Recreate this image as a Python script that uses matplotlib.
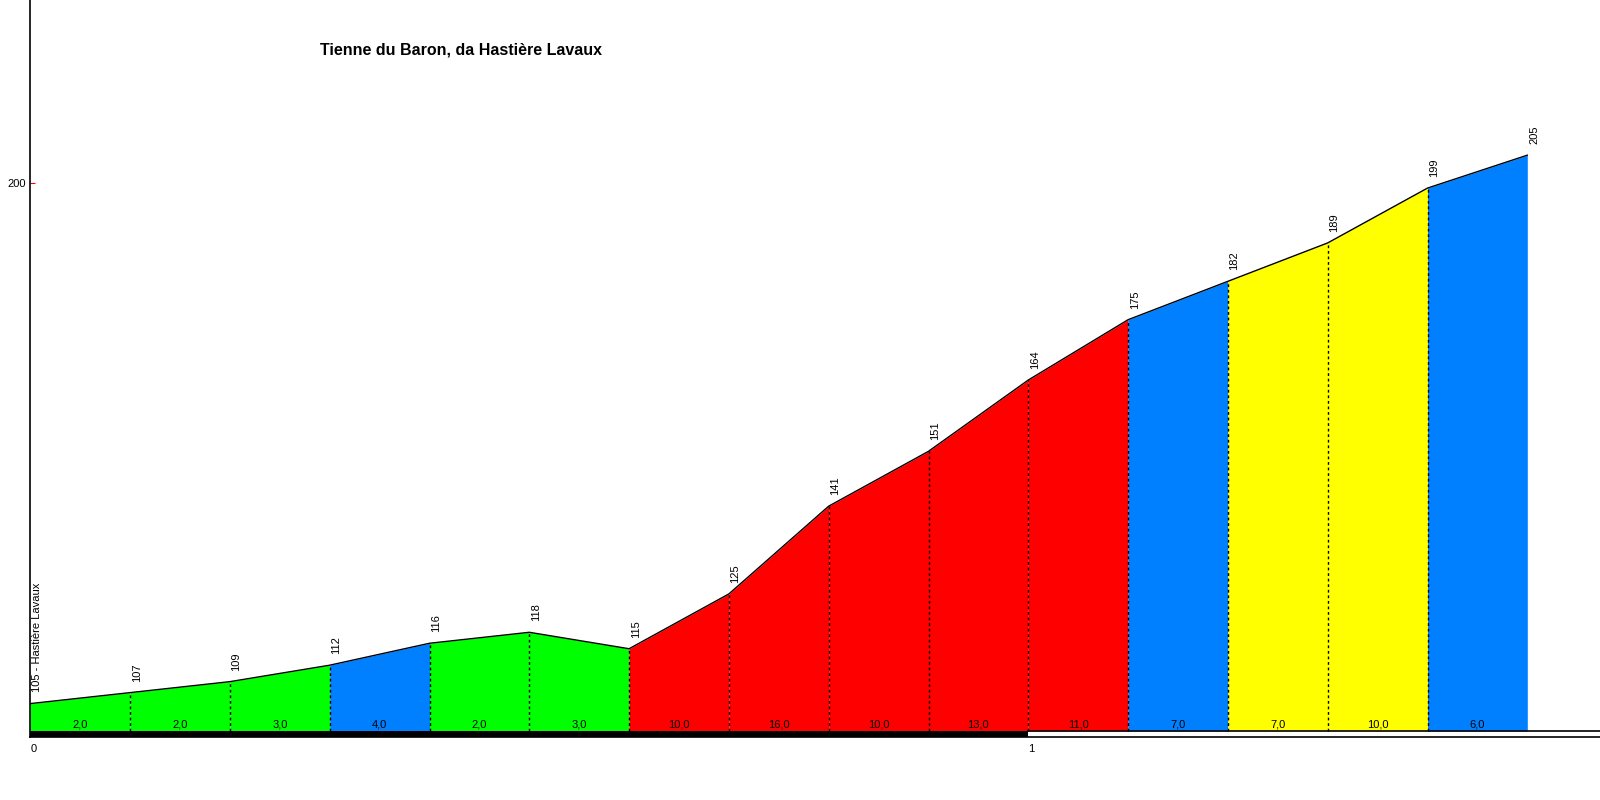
import matplotlib
matplotlib.use("Agg")
import matplotlib.pyplot as plt
import numpy as np

plt.rcParams['font.family'] = ['Liberation Sans', 'DejaVu Sans']

# Data
distance_km = [0.0, 0.1, 0.2, 0.3, 0.4, 0.5, 0.6, 0.7, 0.8, 0.9, 1.0, 1.1, 1.2, 1.3, 1.4, 1.5]
elevation_m = [105, 107, 109, 112, 116, 118, 115, 125, 141, 151, 164, 175, 182, 189, 199, 205]
gradient_labels = ["2,0", "2,0", "3,0", "4,0", "2,0", "3,0", "10,0", "16,0", "10,0",
                   "13,0", "11,0", "7,0", "7,0", "10,0", "6,0"]
segment_colors = ["#00FF00", "#00FF00", "#00FF00", "#0080FF", "#00FF00", "#00FF00",
                  "#FF0000", "#FF0000", "#FF0000", "#FF0000", "#FF0000",
                  "#0080FF", "#FFFF00", "#FFFF00", "#0080FF"]
start_label = "105 - Hastière Lavaux"
title = "Tienne du Baron, da Hastière Lavaux"
x_ticks = [0, 1]
y_ticks = [200]

W, H = 1600, 800
fig = plt.figure(figsize=(16, 8), dpi=100)
left_px, base_px, bottom_px = 30.3, 731, 737
px_per_m = 5.484
px_per_km = 998
ax = fig.add_axes([left_px / W, (H - bottom_px) / H, 1 - left_px / W, bottom_px / H])
ybot = 100 - (bottom_px - base_px) / px_per_m
ytop = 100 + base_px / px_per_m
ax.set_xlim(0, (W - left_px) / px_per_km)
ax.set_ylim(ybot, ytop)

x = np.array(distance_km)
y = np.array(elevation_m)

for i in range(len(x) - 1):
    ax.fill_between([x[i], x[i + 1]], [100, 100], [y[i], y[i + 1]],
                    color=segment_colors[i], linewidth=0)
for i in range(1, len(x) - 1):
    ax.vlines(x[i], 100, y[i], colors="black", linewidth=1, linestyles=(0, (2, 2)))
ax.plot(x, y, color="black", linewidth=1)

# distance bar
ax.fill_between([0, 1], [ybot, ybot], [100, 100], color="black", linewidth=0)
xmax = ax.get_xlim()[1]
ax.plot([1, xmax], [100, 100], color="black", linewidth=1.2, clip_on=False)
ax.plot([0, xmax], [ybot, ybot], color="black", linewidth=1.2, clip_on=False)

# elevation labels
for i in range(1, len(x)):
    ax.annotate(str(elevation_m[i]), (x[i], y[i]), xytext=(1.2, 8), textcoords="offset points",
                rotation=90, ha="left", va="bottom", fontsize=8)
ax.annotate(start_label, (x[0], y[0]), xytext=(1.2, 8), textcoords="offset points",
            rotation=90, ha="left", va="bottom", fontsize=8)

# gradient labels
for i in range(len(x) - 1):
    ax.annotate(gradient_labels[i], ((x[i] + x[i + 1]) / 2, 100), xytext=(0, 5),
                textcoords="offset points", ha="center", va="center", fontsize=8)

for s in ["top", "right", "bottom"]:
    ax.spines[s].set_visible(False)
ax.spines["left"].set_linewidth(1.2)
ax.set_xticks(x_ticks)
ax.set_xticklabels([str(t) for t in x_ticks], fontsize=8, ha="left")
ax.tick_params(axis="x", length=0, pad=5)
ax.set_yticks(y_ticks)
ax.set_yticklabels([str(t) for t in y_ticks], fontsize=8)
ax.tick_params(axis="y", direction="in", length=3.5, color="red", pad=3)

fig.text(461 / W, 1 - 50 / H, title, ha="center", va="center", fontsize=11.5, fontweight="bold")

fig.savefig("out.png", dpi=100)
